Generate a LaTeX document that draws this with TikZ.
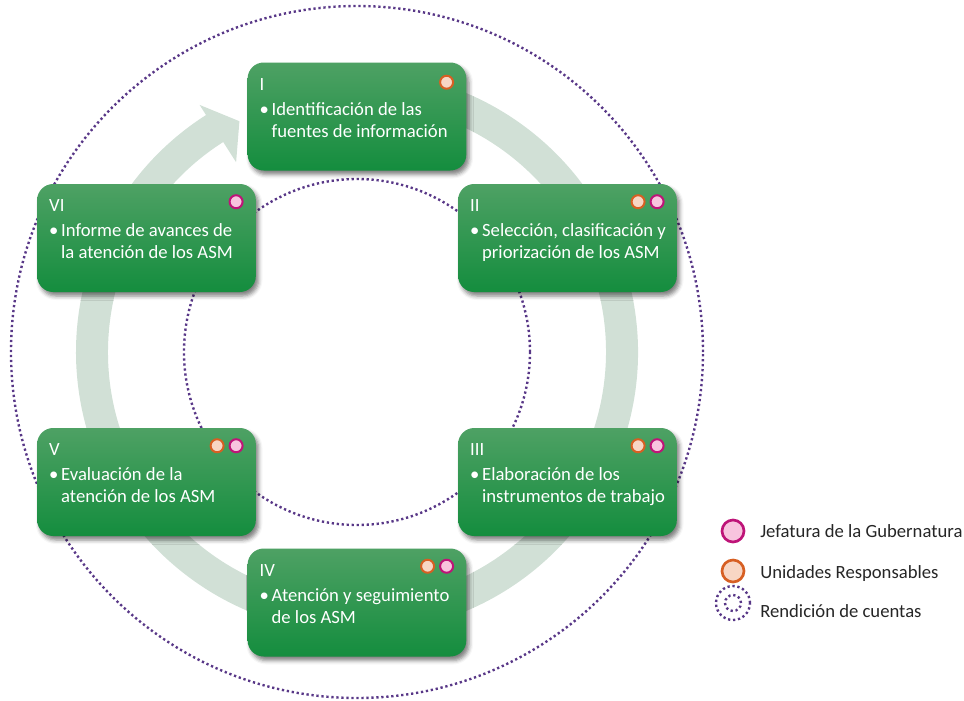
\documentclass[tikz,border=0pt]{standalone}
\usepackage{fontspec}
\setmainfont{Carlito}
\usepackage{tikz}
\usetikzlibrary{positioning, shadows.blur}

\definecolor{verdeclaro}{RGB}{78,161,100}
\definecolor{verdeoscuro}{RGB}{20,141,62}
\definecolor{anillo}{RGB}{209,224,214}
\definecolor{morado}{RGB}{88,55,135}
\definecolor{jefborde}{RGB}{190,20,120}
\definecolor{jefrelleno}{RGB}{248,196,222}
\definecolor{uniborde}{RGB}{215,95,35}
\definecolor{unirelleno}{RGB}{248,214,196}

\newcommand{\vineta}[2]{\begin{tabular}[t]{@{}l@{}l@{}}\makebox[9pt][l]{\textbullet}&#1\\&#2\end{tabular}}

\tikzset{
  etapa/.style={rectangle, rounded corners=12pt, minimum width=164pt, minimum height=81pt,
    top color=verdeclaro, bottom color=verdeoscuro,
    blur shadow={shadow xshift=2pt, shadow yshift=-3pt, shadow blur radius=3pt, shadow opacity=50}},
  numero/.style={anchor=base west, text=white, inner sep=0pt},
  texto/.style={anchor=base west, text=white, inner sep=0pt},
  jef/.style={circle, draw=jefborde, fill=jefrelleno, line width=1.5pt, minimum size=9.75pt, inner sep=0pt},
  uni/.style={circle, draw=uniborde, fill=unirelleno, line width=1.5pt, minimum size=9.75pt, inner sep=0pt},
  leyenda/.style={anchor=base west, inner sep=0pt, text=black!85},
  rendicion/.style={draw=morado, line width=1.8pt, dash pattern=on 1.7pt off 2.05pt},
}

\begin{document}
\begin{tikzpicture}[x=0.75pt, y=0.75pt, font=\fontsize{14}{16.5}\selectfont]
  \useasboundingbox (0,0) rectangle (964,-700);

  % ciclo
  \begin{scope}[shift={(357,-352)}]
    \draw[rendicion] (0,0) circle[radius=346];
    \draw[rendicion] (0,0) circle[radius=173];
    \fill[anillo] (100:281) arc[start angle=100, end angle=-237.5, radius=281]
      -- (-237.5:293) -- (-243:259) -- (-237.5:225) -- (-237.5:249)
      arc[start angle=-237.5, end angle=100, radius=249] -- cycle;
  \end{scope}

  % etapas
  \node[etapa] (I) at (357,-116.5) {};
  \node[numero] (I-n) at ([xshift=9pt, yshift=-21pt]I.north west) {I};
  \node[texto] (I-t) at ([xshift=9pt, yshift=-39.75pt]I.north west) {\vineta{Identificación de las}{fuentes de información}};
  \node[uni] (I-u) at ([xshift=-15pt, yshift=-15pt]I.north east) {};

  \node[etapa] (II) at (567.5,-238) {};
  \node[numero] (II-n) at ([xshift=9pt, yshift=-21pt]II.north west) {II};
  \node[texto] (II-t) at ([xshift=9pt, yshift=-39.75pt]II.north west) {\vineta{Selección, clasificación y}{priorización de los ASM}};
  \node[jef] (II-j) at ([xshift=-15pt, yshift=-13.5pt]II.north east) {};
  \node[uni] (II-u) at ([xshift=-29.25pt, yshift=-13.5pt]II.north east) {};

  \node[etapa] (III) at (567.5,-482) {};
  \node[numero] (III-n) at ([xshift=9pt, yshift=-21pt]III.north west) {III};
  \node[texto] (III-t) at ([xshift=9pt, yshift=-39.75pt]III.north west) {\vineta{Elaboración de los}{instrumentos de trabajo}};
  \node[jef] (III-j) at ([xshift=-15pt, yshift=-13.5pt]III.north east) {};
  \node[uni] (III-u) at ([xshift=-29.25pt, yshift=-13.5pt]III.north east) {};

  \node[etapa] (IV) at (357,-602.5) {};
  \node[numero] (IV-n) at ([xshift=9pt, yshift=-21pt]IV.north west) {IV};
  \node[texto] (IV-t) at ([xshift=9pt, yshift=-39.75pt]IV.north west) {\vineta{Atención y seguimiento}{de los ASM}};
  \node[jef] (IV-j) at ([xshift=-15pt, yshift=-13.5pt]IV.north east) {};
  \node[uni] (IV-u) at ([xshift=-29.25pt, yshift=-13.5pt]IV.north east) {};

  \node[etapa] (V) at (146.5,-482) {};
  \node[numero] (V-n) at ([xshift=9pt, yshift=-21pt]V.north west) {V};
  \node[texto] (V-t) at ([xshift=9pt, yshift=-39.75pt]V.north west) {\vineta{Evaluación de la}{atención de los ASM}};
  \node[jef] (V-j) at ([xshift=-15pt, yshift=-13.5pt]V.north east) {};
  \node[uni] (V-u) at ([xshift=-29.25pt, yshift=-13.5pt]V.north east) {};

  \node[etapa] (VI) at (146.5,-238) {};
  \node[numero] (VI-n) at ([xshift=9pt, yshift=-21pt]VI.north west) {VI};
  \node[texto] (VI-t) at ([xshift=9pt, yshift=-39.75pt]VI.north west) {\vineta{Informe de avances de}{la atención de los ASM}};
  \node[jef] (VI-j) at ([xshift=-15pt, yshift=-13.5pt]VI.north east) {};

  % leyenda
  \node[jef, minimum size=16.5pt, line width=2pt] (ley-j) at (733,-531) {};
  \node[leyenda] (ley-jt) at (760,-537) {Jefatura de la Gubernatura};
  \node[uni, minimum size=16.5pt, line width=2pt] (ley-u) at (733,-571) {};
  \node[leyenda] (ley-ut) at (760,-578) {Unidades Responsables};
  \coordinate (ley-r) at (733,-603);
  \draw[rendicion] (ley-r) circle[radius=17];
  \draw[rendicion] (ley-r) circle[radius=8];
  \node[leyenda] (ley-rt) at (760,-617) {Rendición de cuentas};
\end{tikzpicture}
\end{document}
